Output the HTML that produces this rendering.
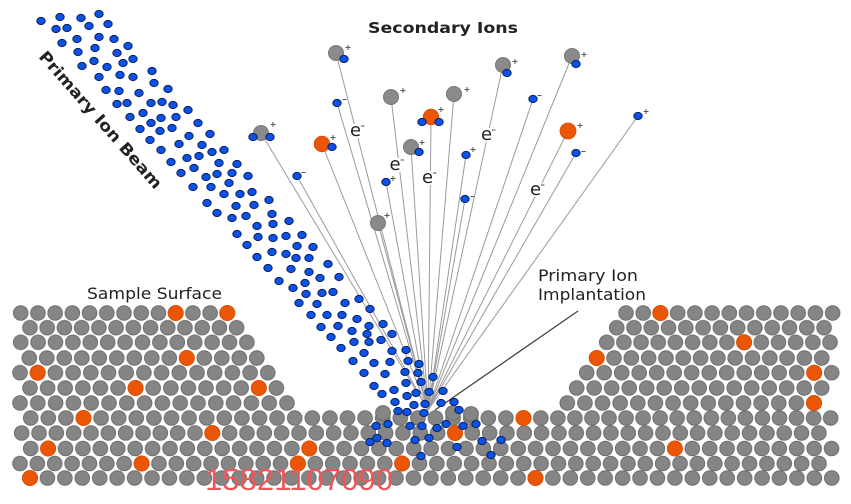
<!DOCTYPE html>
<html>
<head>
<meta charset="utf-8">
<style>
html,body{margin:0;padding:0;background:#fff;}
body{width:851px;height:504px;overflow:hidden;}
svg{display:block;}
.g{fill:#858585;stroke:#6e6e6e;stroke-width:1;}
.o{fill:#ea5506;stroke:#d94c00;stroke-width:0.8;}
.gi{fill:#8a8a8a;stroke:#777;stroke-width:1;}
.lbl{font-family:"DejaVu Sans","Liberation Sans",sans-serif;fill:#222;}
.sup{stroke:#555;stroke-width:1;fill:none;}
</style>
</head>
<body>
<svg width="851" height="504" viewBox="0 0 851 504" xmlns="http://www.w3.org/2000/svg">
<defs>
<ellipse id="b" cx="0" cy="0" rx="4.2" ry="3.6" fill="#0b52e8" stroke="#0a2060" stroke-width="1"/>
<pattern id="L1" patternUnits="userSpaceOnUse" x="12.09" y="305" width="17.22" height="16"><circle class="g" cx="8.61" cy="8" r="7.3"/></pattern>
<pattern id="L2" patternUnits="userSpaceOnUse" x="21.39" y="319.7" width="17.22" height="16"><circle class="g" cx="8.61" cy="8" r="7.3"/></pattern>
<pattern id="L3" patternUnits="userSpaceOnUse" x="12.0" y="334.3" width="17.4" height="16"><circle class="g" cx="8.7" cy="8" r="7.3"/></pattern>
<pattern id="L4" patternUnits="userSpaceOnUse" x="20.55" y="350" width="17.5" height="16"><circle class="g" cx="8.75" cy="8" r="7.3"/></pattern>
<pattern id="L5" patternUnits="userSpaceOnUse" x="11.15" y="364.7" width="17.7" height="16"><circle class="g" cx="8.85" cy="8" r="7.3"/></pattern>
<pattern id="L6" patternUnits="userSpaceOnUse" x="21.2" y="380" width="17.6" height="16"><circle class="g" cx="8.8" cy="8" r="7.3"/></pattern>
<pattern id="L7" patternUnits="userSpaceOnUse" x="11.1" y="395" width="17.8" height="16"><circle class="g" cx="8.9" cy="8" r="7.3"/></pattern>
<pattern id="R1" patternUnits="userSpaceOnUse" x="617.39" y="305" width="17.22" height="16"><circle class="g" cx="8.61" cy="8" r="7.3"/></pattern>
<pattern id="R2" patternUnits="userSpaceOnUse" x="608.06" y="319.7" width="17.28" height="16"><circle class="g" cx="8.64" cy="8" r="7.3"/></pattern>
<pattern id="R3" patternUnits="userSpaceOnUse" x="598.11" y="334.3" width="17.18" height="16"><circle class="g" cx="8.59" cy="8" r="7.3"/></pattern>
<pattern id="R4" patternUnits="userSpaceOnUse" x="588.045" y="350" width="17.31" height="16"><circle class="g" cx="8.655" cy="8" r="7.3"/></pattern>
<pattern id="R5" patternUnits="userSpaceOnUse" x="577.95" y="364.7" width="17.5" height="16"><circle class="g" cx="8.75" cy="8" r="7.3"/></pattern>
<pattern id="R6" patternUnits="userSpaceOnUse" x="567.95" y="380" width="17.5" height="16"><circle class="g" cx="8.75" cy="8" r="7.3"/></pattern>
<pattern id="R7" patternUnits="userSpaceOnUse" x="558.49" y="395" width="17.62" height="16"><circle class="g" cx="8.81" cy="8" r="7.3"/></pattern>
<pattern id="F8a" patternUnits="userSpaceOnUse" x="21.9" y="410" width="17.6" height="16"><circle class="g" cx="8.8" cy="8" r="7.3"/></pattern>
<pattern id="F8b" patternUnits="userSpaceOnUse" x="532.275" y="410" width="17.05" height="16"><circle class="g" cx="8.525" cy="8" r="7.3"/></pattern>
<pattern id="F9" patternUnits="userSpaceOnUse" x="13.035" y="425" width="17.33" height="16"><circle class="g" cx="8.665" cy="8" r="7.3"/></pattern>
<pattern id="F10" patternUnits="userSpaceOnUse" x="21.995" y="440.5" width="17.41" height="16"><circle class="g" cx="8.705" cy="8" r="7.3"/></pattern>
<pattern id="F11" patternUnits="userSpaceOnUse" x="11.315" y="455.5" width="17.37" height="16"><circle class="g" cx="8.685" cy="8" r="7.3"/></pattern>
<pattern id="F12" patternUnits="userSpaceOnUse" x="21.285" y="470" width="17.43" height="16"><circle class="g" cx="8.715" cy="8" r="7.3"/></pattern>
</defs>

<rect width="851" height="504" fill="#fff"/>

<!-- lattice -->
<rect x="12.09" y="305" width="223.86" height="16" fill="url(#L1)"/>
<rect x="21.39" y="319.7" width="223.86" height="16" fill="url(#L2)"/>
<rect x="12.0" y="334.3" width="243.6" height="16" fill="url(#L3)"/>
<rect x="20.55" y="350" width="245" height="16" fill="url(#L4)"/>
<rect x="11.15" y="364.7" width="265.5" height="16" fill="url(#L5)"/>
<rect x="21.2" y="380" width="264" height="16" fill="url(#L6)"/>
<rect x="11.1" y="395" width="284.8" height="16" fill="url(#L7)"/>
<rect x="617.39" y="305" width="223.86" height="16" fill="url(#R1)"/>
<rect x="608.06" y="319.7" width="224.64" height="16" fill="url(#R2)"/>
<rect x="598.11" y="334.3" width="240.52" height="16" fill="url(#R3)"/>
<rect x="588.045" y="350" width="242.34" height="16" fill="url(#R4)"/>
<rect x="577.95" y="364.7" width="262.5" height="16" fill="url(#R5)"/>
<rect x="567.95" y="380" width="262.5" height="16" fill="url(#R6)"/>
<rect x="558.49" y="395" width="264.3" height="16" fill="url(#R7)"/>
<rect x="21.9" y="410" width="510.4" height="16" fill="url(#F8a)"/>
<rect x="532.275" y="410" width="306.9" height="16" fill="url(#F8b)"/>
<rect x="13.035" y="425" width="814.51" height="16" fill="url(#F9)"/>
<rect x="21.995" y="440.5" width="818.27" height="16" fill="url(#F10)"/>
<rect x="11.315" y="455.5" width="816.39" height="16" fill="url(#F11)"/>
<rect x="21.285" y="470" width="819.21" height="16" fill="url(#F12)"/>

<!-- displaced atoms in crater -->
<circle class="g" cx="383" cy="413" r="7.4"/>
<circle class="g" cx="453" cy="413" r="7.4"/>
<circle class="g" cx="471" cy="414" r="7.4"/>

<!-- orange atoms -->
<g class="o">
<circle cx="175.7" cy="313" r="7.6"/>
<circle cx="227.3" cy="313" r="7.6"/>
<circle cx="660.4" cy="313" r="7.6"/>
<circle cx="744.1" cy="342.3" r="7.6"/>
<circle cx="186.8" cy="358" r="7.6"/>
<circle cx="596.7" cy="358" r="7.6"/>
<circle cx="37.7" cy="372.7" r="7.6"/>
<circle cx="814.2" cy="372.7" r="7.6"/>
<circle cx="135.6" cy="388" r="7.6"/>
<circle cx="258.8" cy="388" r="7.6"/>
<circle cx="814" cy="403" r="7.6"/>
<circle cx="83.5" cy="418" r="7.6"/>
<circle cx="523.5" cy="418" r="7.6"/>
<circle cx="212.3" cy="433" r="7.6"/>
<circle cx="455" cy="433" r="7.6"/>
<circle cx="48.1" cy="448.5" r="7.6"/>
<circle cx="309.3" cy="448.5" r="7.6"/>
<circle cx="674.9" cy="448.5" r="7.6"/>
<circle cx="141.6" cy="463.5" r="7.6"/>
<circle cx="297.9" cy="463.5" r="7.6"/>
<circle cx="402.1" cy="463.5" r="7.6"/>
<circle cx="30" cy="478" r="7.6"/>
<circle cx="535.5" cy="478" r="7.6"/>
</g>

<!-- trajectory lines -->
<g stroke="#9a9a9a" stroke-width="1">
<line x1="336" y1="53" x2="428" y2="410"/>
<line x1="337" y1="103" x2="428" y2="410"/>
<line x1="261" y1="133" x2="428" y2="410"/>
<line x1="322" y1="144" x2="428" y2="410"/>
<line x1="297" y1="176" x2="428" y2="410"/>
<line x1="391" y1="97" x2="428" y2="410"/>
<line x1="431" y1="117" x2="428" y2="410"/>
<line x1="411" y1="147" x2="428" y2="410"/>
<line x1="386" y1="182" x2="428" y2="410"/>
<line x1="378" y1="223" x2="428" y2="410"/>
<line x1="454" y1="94" x2="428" y2="410"/>
<line x1="503" y1="65" x2="428" y2="410"/>
<line x1="572" y1="56" x2="428" y2="410"/>
<line x1="533" y1="99" x2="428" y2="410"/>
<line x1="466" y1="155" x2="428" y2="410"/>
<line x1="465" y1="199" x2="428" y2="410"/>
<line x1="568" y1="131" x2="428" y2="410"/>
<line x1="576" y1="153" x2="428" y2="410"/>
<line x1="638" y1="116" x2="428" y2="410"/>
</g>

<!-- implantation leader -->
<line x1="578" y1="311" x2="435" y2="410" stroke="#444" stroke-width="1.3"/>

<!-- primary ion beam -->
<g>
<use href="#b" x="41" y="21"/><use href="#b" x="60" y="17"/><use href="#b" x="81" y="18"/><use href="#b" x="99" y="14"/>
<use href="#b" x="56" y="29"/><use href="#b" x="67" y="28"/><use href="#b" x="89" y="26"/><use href="#b" x="108" y="24"/>
<use href="#b" x="62" y="43"/><use href="#b" x="77" y="39"/><use href="#b" x="99" y="37"/><use href="#b" x="114" y="39"/>
<use href="#b" x="128" y="46"/><use href="#b" x="78" y="52"/><use href="#b" x="95" y="48"/><use href="#b" x="117" y="53"/>
<use href="#b" x="133" y="59"/><use href="#b" x="123" y="63"/><use href="#b" x="94" y="61"/><use href="#b" x="82" y="66"/>
<use href="#b" x="107" y="67"/><use href="#b" x="99" y="77"/><use href="#b" x="120" y="75"/><use href="#b" x="133" y="77"/>
<use href="#b" x="152" y="71"/><use href="#b" x="154" y="83"/><use href="#b" x="168" y="89"/><use href="#b" x="106" y="90"/>
<use href="#b" x="119" y="91"/><use href="#b" x="139" y="93"/><use href="#b" x="117" y="104"/><use href="#b" x="127" y="103"/>
<use href="#b" x="151" y="103"/><use href="#b" x="162" y="102"/><use href="#b" x="173" y="105"/><use href="#b" x="188" y="110"/>
<use href="#b" x="130" y="117"/><use href="#b" x="143" y="113"/><use href="#b" x="161" y="118"/><use href="#b" x="176" y="117"/>
<use href="#b" x="198" y="123"/><use href="#b" x="140" y="129"/><use href="#b" x="151" y="123"/><use href="#b" x="160" y="131"/>
<use href="#b" x="172" y="128"/><use href="#b" x="189" y="136"/><use href="#b" x="210" y="134"/><use href="#b" x="150" y="140"/>
<use href="#b" x="179" y="144"/><use href="#b" x="202" y="145"/><use href="#b" x="161" y="150"/><use href="#b" x="212" y="152"/>
<use href="#b" x="224" y="150"/><use href="#b" x="187" y="158"/><use href="#b" x="199" y="156"/><use href="#b" x="171" y="162"/>
<use href="#b" x="219" y="163"/><use href="#b" x="237" y="164"/><use href="#b" x="194" y="168"/><use href="#b" x="206" y="177"/>
<use href="#b" x="217" y="174"/><use href="#b" x="232" y="173"/><use href="#b" x="181" y="173"/><use href="#b" x="193" y="187"/>
<use href="#b" x="211" y="187"/><use href="#b" x="229" y="183"/><use href="#b" x="224" y="194"/><use href="#b" x="207" y="203"/>
<use href="#b" x="236" y="206"/><use href="#b" x="217" y="213"/><use href="#b" x="232" y="218"/><use href="#b" x="237" y="234"/>
<use href="#b" x="248" y="176"/><use href="#b" x="240" y="194"/><use href="#b" x="252" y="192"/>
<use href="#b" x="254" y="205"/><use href="#b" x="269" y="200"/><use href="#b" x="246" y="216"/><use href="#b" x="272" y="214"/>
<use href="#b" x="289" y="221"/><use href="#b" x="257" y="226"/><use href="#b" x="273" y="224"/><use href="#b" x="258" y="237"/>
<use href="#b" x="273" y="238"/><use href="#b" x="286" y="236"/><use href="#b" x="302" y="235"/><use href="#b" x="247" y="245"/>
<use href="#b" x="297" y="246"/><use href="#b" x="313" y="247"/><use href="#b" x="272" y="252"/><use href="#b" x="286" y="254"/>
<use href="#b" x="296" y="258"/><use href="#b" x="309" y="258"/><use href="#b" x="257" y="257"/><use href="#b" x="328" y="264"/>
<use href="#b" x="268" y="268"/><use href="#b" x="291" y="269"/><use href="#b" x="309" y="272"/><use href="#b" x="320" y="278"/>
<use href="#b" x="339" y="277"/><use href="#b" x="279" y="281"/><use href="#b" x="305" y="283"/><use href="#b" x="293" y="288"/>
<use href="#b" x="306" y="294"/><use href="#b" x="322" y="293"/><use href="#b" x="333" y="292"/><use href="#b" x="359" y="299"/>
<use href="#b" x="299" y="303"/><use href="#b" x="317" y="304"/><use href="#b" x="345" y="303"/><use href="#b" x="370" y="309"/>
<use href="#b" x="311" y="315"/><use href="#b" x="327" y="315"/><use href="#b" x="342" y="315"/><use href="#b" x="357" y="319"/>
<use href="#b" x="321" y="327"/><use href="#b" x="338" y="326"/><use href="#b" x="369" y="326"/><use href="#b" x="383" y="324"/>
<use href="#b" x="352" y="331"/><use href="#b" x="331" y="337"/><use href="#b" x="367" y="334"/><use href="#b" x="392" y="334"/>
<use href="#b" x="354" y="342"/><use href="#b" x="369" y="342"/><use href="#b" x="381" y="340"/><use href="#b" x="341" y="348"/>
<use href="#b" x="364" y="353"/><use href="#b" x="392" y="351"/><use href="#b" x="406" y="350"/><use href="#b" x="353" y="361"/>
<use href="#b" x="374" y="363"/><use href="#b" x="390" y="362"/><use href="#b" x="408" y="361"/><use href="#b" x="419" y="364"/>
<use href="#b" x="364" y="373"/><use href="#b" x="385" y="374"/><use href="#b" x="405" y="372"/><use href="#b" x="418" y="373"/>
<use href="#b" x="433" y="377"/><use href="#b" x="374" y="386"/><use href="#b" x="394" y="390"/><use href="#b" x="406" y="383"/>
<use href="#b" x="421" y="382"/><use href="#b" x="382" y="394"/><use href="#b" x="407" y="396"/><use href="#b" x="416" y="393"/>
<use href="#b" x="429" y="392"/><use href="#b" x="443" y="391"/><use href="#b" x="395" y="402"/><use href="#b" x="414" y="405"/>
<use href="#b" x="425" y="404"/><use href="#b" x="441" y="403"/><use href="#b" x="454" y="402"/><use href="#b" x="398" y="411"/>
<use href="#b" x="407" y="412"/><use href="#b" x="424" y="413"/><use href="#b" x="459" y="410"/><use href="#b" x="376" y="426"/>
<use href="#b" x="388" y="424"/><use href="#b" x="410" y="426"/><use href="#b" x="422" y="426"/><use href="#b" x="437" y="428"/>
<use href="#b" x="446" y="424"/><use href="#b" x="463" y="426"/><use href="#b" x="476" y="424"/><use href="#b" x="370" y="442"/>
<use href="#b" x="377" y="438"/><use href="#b" x="387" y="443"/><use href="#b" x="415" y="440"/><use href="#b" x="429" y="438"/>
<use href="#b" x="482" y="441"/><use href="#b" x="501" y="440"/><use href="#b" x="457" y="447"/><use href="#b" x="421" y="456"/>
<use href="#b" x="491" y="455"/>
</g>

<!-- secondary ions -->
<g>
<circle class="gi" cx="336" cy="53" r="7.5"/><use href="#b" x="344" y="59"/>
<use href="#b" x="337" y="103"/>
<circle class="gi" cx="261" cy="133" r="7.5"/><use href="#b" x="253" y="137"/><use href="#b" x="270" y="137"/>
<circle class="o" cx="322" cy="144" r="7.8"/><use href="#b" x="332" y="147"/>
<use href="#b" x="297" y="176"/>
<circle class="gi" cx="391" cy="97" r="7.5"/>
<circle class="o" cx="431" cy="117" r="7.8"/><use href="#b" x="422" y="122"/><use href="#b" x="439" y="122"/>
<circle class="gi" cx="411" cy="147" r="7.5"/><use href="#b" x="419" y="152"/>
<use href="#b" x="386" y="182"/>
<circle class="gi" cx="378" cy="223" r="7.5"/>
<circle class="gi" cx="454" cy="94" r="7.5"/>
<circle class="gi" cx="503" cy="65" r="7.5"/><use href="#b" x="507" y="73"/>
<circle class="gi" cx="572" cy="56" r="7.5"/><use href="#b" x="576" y="64"/>
<use href="#b" x="533" y="99"/>
<use href="#b" x="466" y="155"/>
<use href="#b" x="465" y="199"/>
<circle class="o" cx="568" cy="131" r="8"/>
<use href="#b" x="576" y="153"/>
<use href="#b" x="638" y="116"/>
</g>

<!-- charge marks -->
<g class="sup">
<path d="M345.5 47.5h5M348 45v5"/>
<path d="M342.5 99.5h4"/>
<path d="M270.5 124.5h5M273 122v5"/>
<path d="M330.5 137.5h5M333 135v5"/>
<path d="M301.5 172.5h4"/>
<path d="M400.5 90.5h5M403 88v5"/>
<path d="M438.5 109.5h5M441 107v5"/>
<path d="M419.5 142.5h5M422 140v5"/>
<path d="M390.5 178.5h5M393 176v5"/>
<path d="M384.5 215.5h5M387 213v5"/>
<path d="M464.5 89.5h5M467 87v5"/>
<path d="M512.5 61.5h5M515 59v5"/>
<path d="M581.5 54.5h5M584 52v5"/>
<path d="M537.5 95.5h4"/>
<path d="M470.5 149.5h5M473 147v5"/>
<path d="M470.5 196.5h4"/>
<path d="M577.5 125.5h5M580 123v5"/>
<path d="M581.5 151.5h4"/>
<path d="M643.5 111.5h5M646 109v5"/>
</g>

<!-- electrons -->
<g>
<rect x="349" y="124" width="13" height="14" fill="#fff"/>
<rect x="480" y="128" width="13" height="14" fill="#fff"/>
<rect x="388" y="158" width="13" height="14" fill="#fff"/>
<rect x="421" y="171" width="13" height="14" fill="#fff"/>
<rect x="529" y="183" width="13" height="14" fill="#fff"/>
</g>
<g class="lbl" font-size="18" text-anchor="middle" fill="#333">
<text x="355.5" y="136">e</text>
<text x="486.5" y="140">e</text>
<text x="395" y="170">e</text>
<text x="427.5" y="183">e</text>
<text x="535.5" y="195">e</text>
</g>
<g class="sup" stroke="#444">
<path d="M361 126h3.5"/>
<path d="M492 130h3.5"/>
<path d="M400.5 160h3.5"/>
<path d="M433 173h3.5"/>
<path d="M541 185h3.5"/>
</g>

<!-- labels -->
<text class="lbl" x="368" y="33" font-size="15.5" font-weight="bold" textLength="150" lengthAdjust="spacingAndGlyphs">Secondary Ions</text>
<text class="lbl" x="538" y="281" font-size="16" textLength="100" lengthAdjust="spacingAndGlyphs" fill="#2a2a2a">Primary Ion</text>
<text class="lbl" x="538" y="300" font-size="16" textLength="108" lengthAdjust="spacingAndGlyphs" fill="#2a2a2a">Implantation</text>
<text class="lbl" x="87" y="299" font-size="16" textLength="135" lengthAdjust="spacingAndGlyphs" fill="#2a2a2a">Sample Surface</text>
<text class="lbl" transform="translate(38,57) rotate(48.7)" font-size="16" font-weight="bold" textLength="177" lengthAdjust="spacingAndGlyphs">Primary Ion Beam</text>

<!-- watermark -->
<text x="205" y="490" font-family="'Liberation Sans', sans-serif" font-size="31" fill="#f25555" textLength="188" lengthAdjust="spacingAndGlyphs">15821107090</text>
</svg>
</body>
</html>
